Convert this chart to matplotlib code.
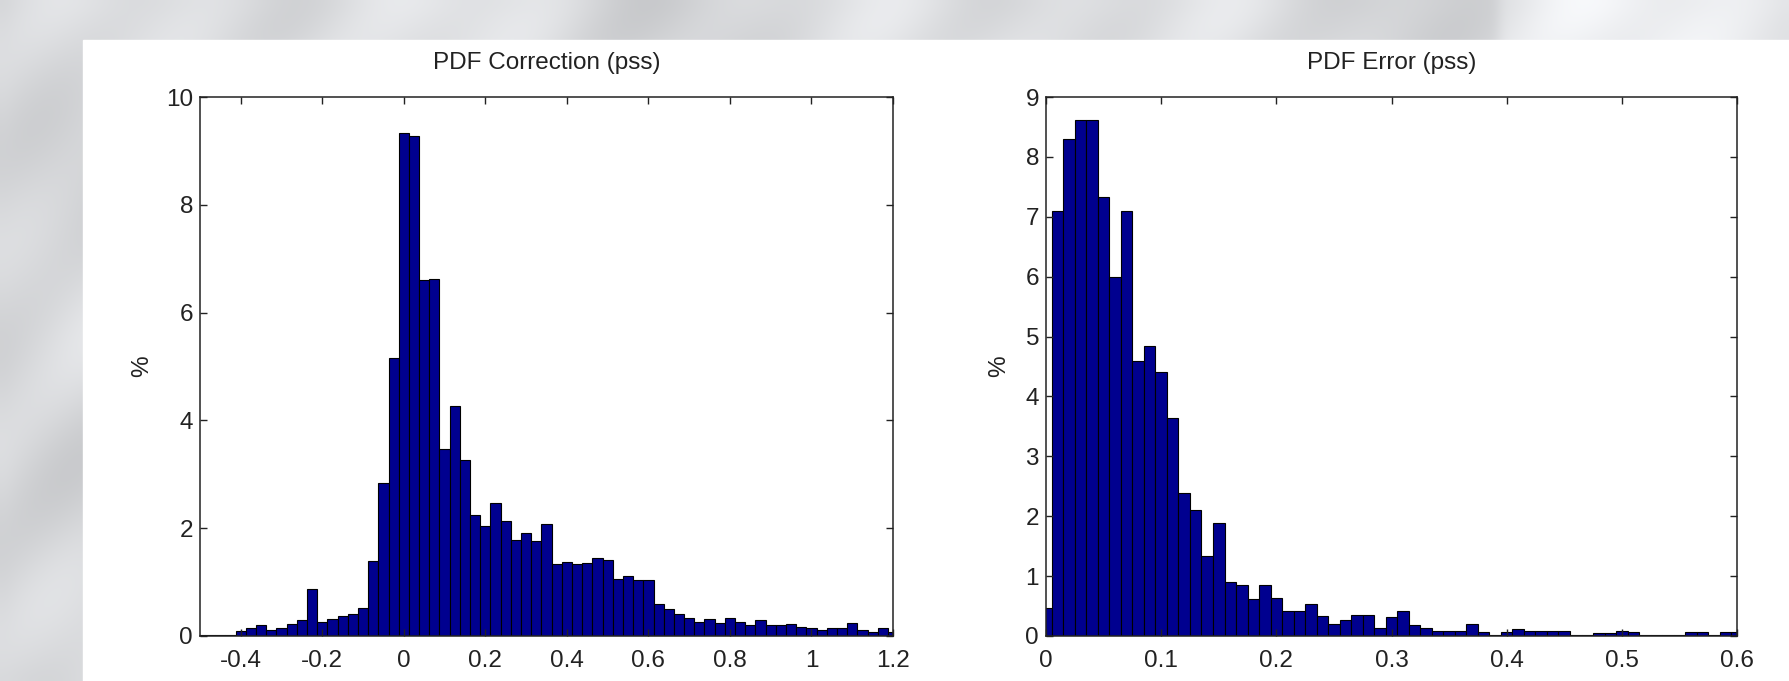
import matplotlib
matplotlib.use("Agg")
import matplotlib.pyplot as plt
import numpy as np

# left histogram: PDF Correction (pss), bins of 0.025 centred on k*0.025
corr_bin_width = 0.025
corr_centers = np.arange(-20, 49) * corr_bin_width
corr_pct = [0.01, 0.01, 0.01, 0.02, 0.09, 0.15, 0.20, 0.12, 0.15, 0.23,
            0.29, 0.88, 0.26, 0.31, 0.38, 0.41, 0.52, 1.40, 2.83, 5.15,
            9.33, 9.28, 6.60, 6.62, 3.47, 4.27, 3.27, 2.24, 2.04, 2.47,
            2.14, 1.79, 1.91, 1.76, 2.08, 1.33, 1.37, 1.33, 1.36, 1.44,
            1.41, 1.06, 1.11, 1.03, 1.03, 0.59, 0.50, 0.41, 0.33, 0.26,
            0.31, 0.24, 0.34, 0.26, 0.20, 0.29, 0.20, 0.20, 0.22, 0.17,
            0.14, 0.11, 0.14, 0.14, 0.25, 0.11, 0.08, 0.14, 0.08]
corr_xticks = [-0.4, -0.2, 0, 0.2, 0.4, 0.6, 0.8, 1, 1.2]
corr_xlabels = ['-0.4', '-0.2', '0', '0.2', '0.4', '0.6', '0.8', '1', '1.2']
corr_yticks = [0, 2, 4, 6, 8, 10]

# right histogram: PDF Error (pss), bins of 0.01 centred on k*0.01
err_bin_width = 0.01
err_centers = np.arange(0, 61) * err_bin_width
err_pct = [0.46, 7.10, 8.30, 8.62, 8.62, 7.33, 6.00, 7.10, 4.60, 4.84,
           4.40, 3.64, 2.38, 2.10, 1.34, 1.89, 0.90, 0.85, 0.62, 0.85,
           0.64, 0.41, 0.41, 0.54, 0.33, 0.20, 0.26, 0.35, 0.35, 0.13,
           0.31, 0.42, 0.18, 0.13, 0.09, 0.09, 0.09, 0.20, 0.07, 0.02,
           0.06, 0.11, 0.08, 0.08, 0.08, 0.08, 0.02, 0.02, 0.05, 0.05,
           0.09, 0.06, 0.01, 0.01, 0.01, 0.01, 0.06, 0.06, 0.02, 0.06,
           0.06]
err_xticks = [0, 0.1, 0.2, 0.3, 0.4, 0.5, 0.6]
err_xlabels = ['0', '0.1', '0.2', '0.3', '0.4', '0.5', '0.6']
err_yticks = list(range(10))

bar_color = '#00008F'
font = ['Liberation Sans', 'DejaVu Sans']
fs = 17.5

W, H = 1789, 681
fig = plt.figure(figsize=(W / 100, H / 100), dpi=100)

# blurry grey photo-like backdrop behind the white plot sheet
bg = fig.add_axes([0, 0, 1, 1], zorder=0)
yy, xx = np.mgrid[0:68, 0:179]
tex = (0.86 + 0.035 * np.sin(xx / 6.0) * np.cos(yy / 5.0)
       + 0.025 * np.sin(xx / 2.7 + yy / 3.1) - 0.02 * np.cos(xx / 11.0))
tex[:, 150:] += 0.05
rgb = np.dstack([tex, tex + 0.005, tex + 0.015]).clip(0, 1)
bg.imshow(rgb, aspect='auto', extent=[0, 1, 0, 1], interpolation='bicubic')
bg.add_patch(plt.Rectangle((83 / W, 0), 1 - 83 / W, 1 - 40 / H,
                           transform=bg.transAxes, color='white', zorder=2))
bg.set_xlim(0, 1)
bg.set_ylim(0, 1)
bg.axis('off')


def style(ax, xticks, xlabels, yticks, ylim, xlim, title, ylab_x):
    ax.set_xlim(*xlim)
    ax.set_ylim(*ylim)
    ax.set_xticks(xticks)
    ax.set_xticklabels(xlabels, fontfamily=font, fontsize=fs)
    ax.set_yticks(yticks)
    ax.set_yticklabels([str(t) for t in yticks], fontfamily=font, fontsize=fs)
    ax.tick_params(direction='in', top=True, right=True, length=5,
                   width=1, color='#222222', labelcolor='#222222')
    ax.tick_params(axis='x', pad=10)
    ax.tick_params(axis='y', pad=5)
    for s in ax.spines.values():
        s.set_linewidth(1.1)
        s.set_color('#222222')
    ax.text(0.5, 1.063, title, transform=ax.transAxes, ha='center',
            va='center', fontfamily=font, fontsize=fs, color='#222222')
    ax.set_ylabel('%', fontfamily=font, fontsize=fs, color='#222222')
    ax.yaxis.set_label_coords(ylab_x, 0.5)


ax1 = fig.add_axes([200 / W, 1 - 636 / H, 693 / W, 539 / H], zorder=3)
ax1.bar(corr_centers, corr_pct, width=corr_bin_width, color=bar_color,
        edgecolor='black', linewidth=0.8)
style(ax1, corr_xticks, corr_xlabels, corr_yticks, (0, 10), (-0.5, 1.2),
      'PDF Correction (pss)', -0.068)

ax2 = fig.add_axes([1046 / W, 1 - 636 / H, 691 / W, 539 / H], zorder=3)
ax2.bar(err_centers, err_pct, width=err_bin_width, color=bar_color,
        edgecolor='black', linewidth=0.8)
style(ax2, err_xticks, err_xlabels, err_yticks, (0, 9), (0, 0.6),
      'PDF Error (pss)', -0.052)

fig.savefig('out.png', dpi=100)
